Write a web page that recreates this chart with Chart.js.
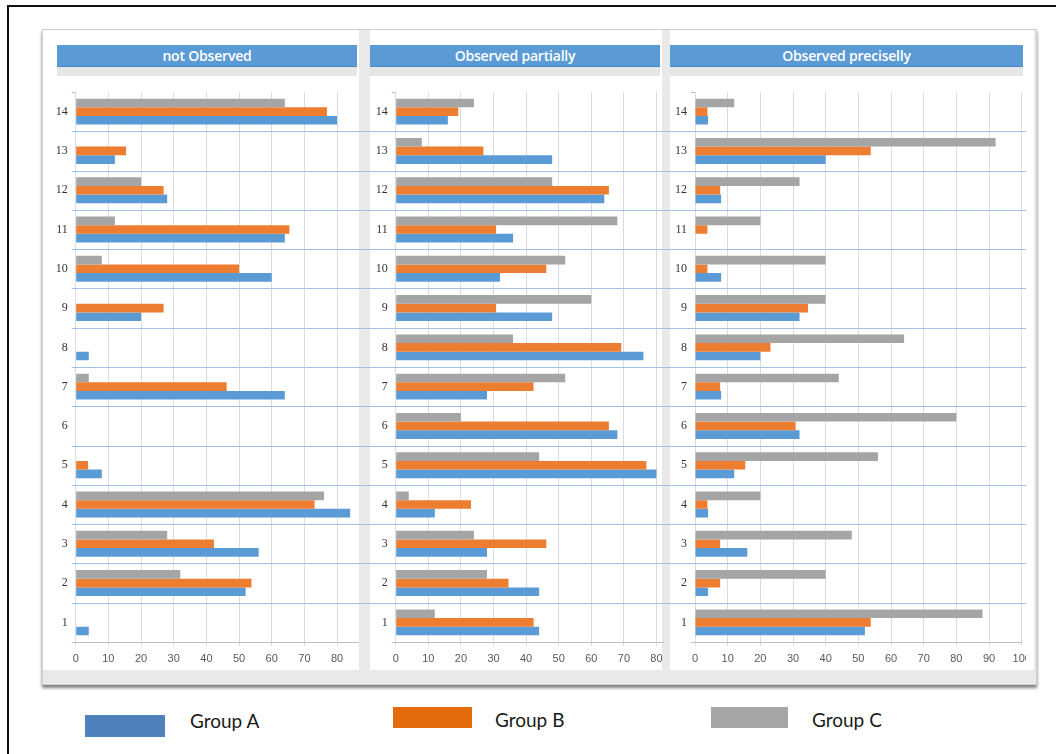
<!DOCTYPE html>
<html><head><meta charset="utf-8">
<script src="https://cdn.jsdelivr.net/npm/chart.js@4.4.0/dist/chart.umd.min.js"></script>
<style>
html,body{margin:0;padding:0;background:#fff;width:1056px;height:754px;overflow:hidden;position:relative;font-family:'Open Sans',sans-serif}
.abs{position:absolute}
#outer{left:7px;top:5px;width:1100px;height:800px;border-left:2px solid #111;border-top:2px solid #111}
#frame{left:42px;top:29px;width:993px;height:654px;background:#e9e9e9;border:1px solid #cfcfcf;box-shadow:0 3px 3px rgba(0,0,0,.5)}
.panel{background:#fff;top:30px;height:640px}
.hdr{top:45px;height:22px;background:#5b9bd5;color:#fff;font:600 14px 'Open Sans',sans-serif;text-align:center;line-height:22px;border-bottom:1px solid #4a88c4;box-sizing:border-box;letter-spacing:-0.2px}
.strip{top:67px;height:9px;background:#e6e6e6}
canvas{position:absolute}
.key{position:absolute}
.ltxt{position:absolute;font:19px Lato,sans-serif;color:#1a1a1a;line-height:20px}
</style></head>
<body>
<div id="outer" class="abs"></div>
<div id="frame" class="abs"></div>
<div class="abs panel" style="left:43px;width:316px"></div>
<div class="abs panel" style="left:370px;width:292px"></div>
<div class="abs panel" style="left:670px;width:364px"></div>
<div id="h1" class="abs hdr" style="left:57px;width:300px"></div>
<div class="abs strip" style="left:57px;width:300px"></div>
<div id="h2" class="abs hdr" style="left:370px;width:290px"></div>
<div class="abs strip" style="left:370px;width:290px"></div>
<div id="h3" class="abs hdr" style="left:670px;width:353px"></div>
<div class="abs strip" style="left:670px;width:353px"></div>

<canvas id="c1" width="325" height="604" style="left:45px;top:76px"></canvas>
<canvas id="c2" width="300" height="604" style="left:370px;top:76px"></canvas>
<canvas id="c3" width="356" height="604" style="left:670px;top:76px"></canvas>

<div class="key" style="left:85px;top:715px;width:80px;height:22px;background:#4f81bd"></div>
<div id="l1" class="ltxt" style="left:190px;top:711px"></div>
<div class="key" style="left:393px;top:707px;width:79px;height:21px;background:#e36c0a"></div>
<div id="l2" class="ltxt" style="left:495px;top:710px"></div>
<div class="key" style="left:711px;top:707px;width:77px;height:21px;background:#a6a6a6"></div>
<div id="l3" class="ltxt" style="left:812px;top:710px"></div>

<script>
const categories = ['1','2','3','4','5','6','7','8','9','10','11','12','13','14'];
const seriesNames = ['Group A','Group B','Group C'];
const panelTitles = ['not Observed','Observed partially','Observed preciselly'];

const xTicksNotObserved = [0,10,20,30,40,50,60,70,80];
const xTicksPartially   = [0,10,20,30,40,50,60,70,80];
const xTicksPrecisely   = [0,10,20,30,40,50,60,70,80,90,100];

// values listed for categories 1..14
const notObsA = [4,52,56,84,8,0,64,4,20,60,64,28,12,80];
const notObsB = [0,53.8,42.3,73.1,3.8,0,46.2,0,26.9,50,65.4,26.9,15.4,76.9];
const notObsC = [0,32,28,76,0,0,4,0,0,8,12,20,0,64];

const partA = [44,44,28,12,80,68,28,76,48,32,36,64,48,16];
const partB = [42.3,34.6,46.2,23.1,76.9,65.4,42.3,69.2,30.8,46.2,30.8,65.4,26.9,19.2];
const partC = [12,28,24,4,44,20,52,36,60,52,68,48,8,24];

const precA = [52,4,16,4,12,32,8,20,32,8,0,8,40,4];
const precB = [53.8,7.7,7.7,3.8,15.4,30.8,7.7,23.1,34.6,3.8,3.8,7.7,53.8,3.8];
const precC = [88,40,48,20,56,80,44,64,40,40,20,32,92,12];

const colA = '#5b9bd5', colB = '#ed7d31', colC = '#a5a5a5';

['h1','h2','h3'].forEach((id,i)=>{ document.getElementById(id).textContent = panelTitles[i]; });
['l1','l2','l3'].forEach((id,i)=>{ document.getElementById(id).textContent = seriesNames[i]; });

const catLines = {
  id:'catLines',
  beforeDatasetsDraw(chart, args, opts){
    const y = chart.scales.y, ctx = chart.ctx, n = chart.data.labels.length;
    const h = (y.bottom - y.top)/n;
    const left = chart.chartArea.left;
    const x0 = opts.fromStart ? 0 : left - 4;
    ctx.save();
    ctx.lineWidth = 1;
    ctx.strokeStyle = '#a3c1e6';
    for (let i=1;i<n;i++){
      const yy = Math.round(y.top + i*h)+0.5;
      ctx.beginPath(); ctx.moveTo(x0,yy); ctx.lineTo(chart.width,yy); ctx.stroke();
    }
    ctx.strokeStyle = '#bfbfbf';
    [0,n].forEach(i=>{
      const yy = Math.round(y.top + i*h)+0.5;
      ctx.beginPath(); ctx.moveTo(left-4,yy); ctx.lineTo(left,yy); ctx.stroke();
    });
    ctx.restore();
  }
};

function makeChart(id, A, B, C, ticks, max, areaLeft, padRight, fromStart){
  const rev = a => a.slice().reverse();
  return new Chart(document.getElementById(id), {
    type:'bar',
    data:{ labels: rev(categories), datasets:[
      {label:seriesNames[2], data:rev(C), backgroundColor:colC},
      {label:seriesNames[1], data:rev(B), backgroundColor:colB},
      {label:seriesNames[0], data:rev(A), backgroundColor:colA}
    ]},
    options:{
      indexAxis:'y', responsive:false, animation:false, devicePixelRatio:1,
      layout:{padding:{top:16,right:padRight,bottom:0,left:0}},
      plugins:{legend:{display:false}, tooltip:{enabled:false}, catLines:{fromStart}},
      datasets:{bar:{categoryPercentage:0.66, barPercentage:1.0, borderWidth:0}},
      scales:{
        x:{min:0, max:max,
           afterBuildTicks: s => { s.ticks = ticks.map(v => ({value:v})); },
           afterFit: s => { s.height = 38; s.paddingLeft = 0; s.paddingRight = 0; },
           grid:{color:'#d9dde3', tickLength:4, lineWidth:1},
           border:{color:'#bfbfbf'},
           ticks:{padding:6, color:'#595959', font:{family:'Liberation Sans', size:11}, maxRotation:0, autoSkip:false}},
        y:{afterFit: s => { s.width = areaLeft; },
           grid:{display:false, drawTicks:false, tickLength:0}, border:{display:false},
           ticks:{padding:8, color:'#333333', font:{family:'Liberation Serif', size:12}}}
      }
    },
    plugins:[catLines]
  });
}

makeChart('c1', notObsA, notObsB, notObsC, xTicksNotObserved, 86.4, 30.7, 12, false);
makeChart('c2', partA, partB, partC, xTicksPartially, 82, 25.7, 7, true);
makeChart('c3', precA, precB, precC, xTicksPrecisely, 100, 25, 4.3, true);
</script>
</body></html>
